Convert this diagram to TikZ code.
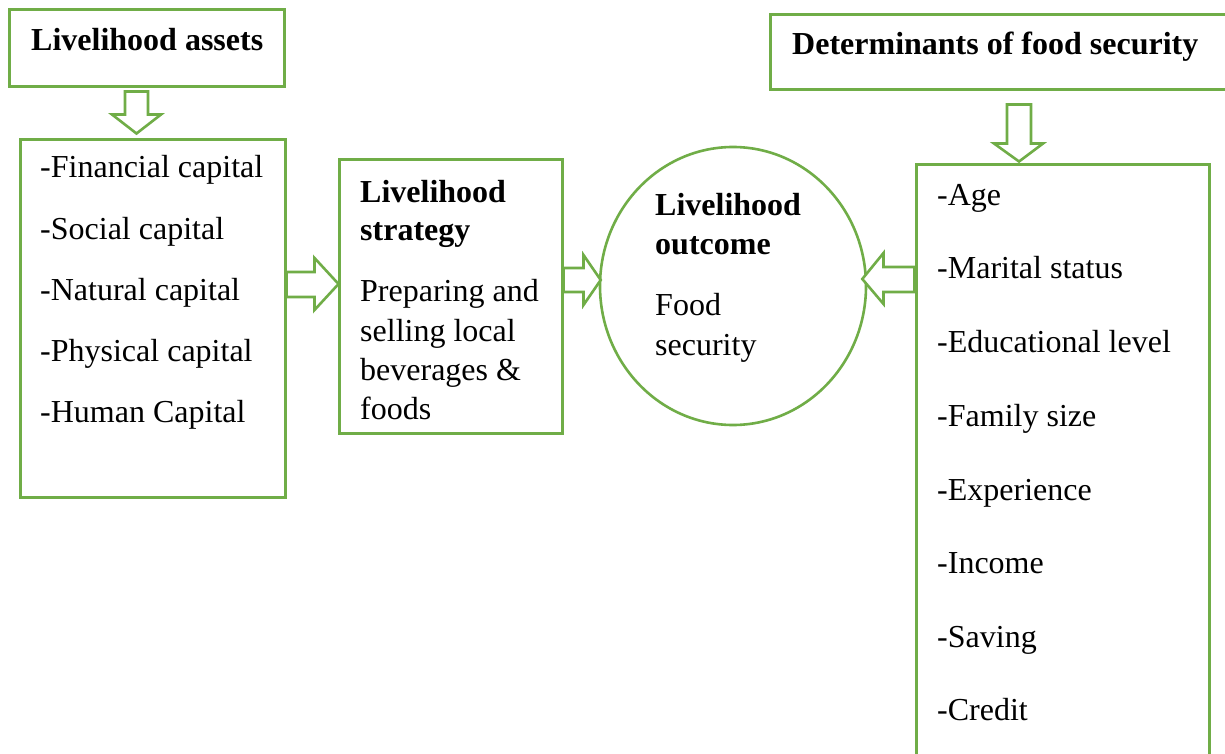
\documentclass[tikz,border=0pt]{standalone}
\usepackage{fontspec}
\setmainfont{Liberation Serif}
\usetikzlibrary{shapes.geometric,calc}
\definecolor{fgreen}{HTML}{70AD47}
\tikzset{
  box/.style={draw=fgreen, line width=3pt, rectangle, inner sep=0pt},
  oval/.style={draw=fgreen, line width=2.6pt, ellipse, inner sep=0pt},
  barrow/.style={draw=fgreen, line width=2.6pt, fill=white, line join=miter},
  txt/.style={anchor=base west, inner sep=0pt, font=\fontsize{32}{36}\selectfont},
  btxt/.style={txt, font=\fontsize{32}{36}\selectfont\bfseries},
}
\begin{document}
\begin{tikzpicture}[x=1pt,y=-1pt]
\useasboundingbox (0,0) rectangle (1225,754);
\clip (0,0) rectangle (1225,754);
\fill[white] (0,0) rectangle (1225,754);

% boxes
\node[box, minimum width=275pt, minimum height=77pt] (A) at (146.5,48.5) {};
\node[box, minimum width=265pt, minimum height=357pt] (B) at (152.5,318.5) {};
\node[box, minimum width=223pt, minimum height=273pt] (C) at (450.5,296.5) {};
\node[oval, minimum width=266pt, minimum height=278pt] (D) at (733,286) {};
\node[box, minimum width=470pt, minimum height=75pt] (E) at (1005,52.5) {};
\node[box, minimum width=293pt, minimum height=615pt] (F) at (1062.5,472.5) {};

% block arrows
% A -> B
\draw[barrow] ($(A.south)+(-21.5,3)$) -- ++(23,0) -- ++(0,23) -- ++(13,0)
  -- ($(B.north)+(-16,-5)$) -- ($(A.south)+(-34.5,26)$) -- ++(13,0) -- cycle;
% B -> C
\draw[barrow] ($(B.east)+(0,-46.5)$) -- ++(28,0) -- ++(0,-14) -- ($(C.west)+(1,-12.5)$)
  -- ($(B.east)+(28,-8.5)$) -- ++(0,-13) -- ++(-28,0) -- cycle;
% C -> D
\draw[barrow] ($(C.east)+(0,-28.5)$) -- ++(20,0) -- ++(0,-13) -- ($(D.west)+(2,-6)$)
  -- ($(C.east)+(20,8.5)$) -- ++(0,-13) -- ++(-20,0) -- cycle;
% E -> F
\draw[barrow] ($(E.south)+(2,13)$) -- ++(24,0) -- ++(0,39) -- ++(12,0)
  -- ($(F.north)+(-43.5,-2)$) -- ($(E.south)+(-11,52)$) -- ++(13,0) -- cycle;
% F -> D
\draw[barrow] ($(F.west)+(0,-205.5)$) -- ++(-31,0) -- ++(0,-14) -- ($(D.east)+(-5,-7)$)
  -- ($(F.west)+(-31,-168.5)$) -- ++(0,-12) -- ++(31,0) -- cycle;

% texts
\node[btxt] (At) at (31,51) {Livelihood assets};

\node[txt] (B1) at (40,178) {-Financial capital};
\node[txt] (B2) at (40,239) {-Social capital};
\node[txt] (B3) at (40,300) {-Natural capital};
\node[txt] (B4) at (40,361) {-Physical capital};
\node[txt] (B5) at (40,422) {-Human Capital};

\node[btxt] (C1) at (360,202) {Livelihood};
\node[btxt] (C2) at (360,240) {strategy};
\node[txt] (C3) at (360,301) {Preparing and};
\node[txt] (C4) at (360,341) {selling local};
\node[txt] (C5) at (360,380) {beverages \&};
\node[txt] (C6) at (360,419) {foods};

\node[btxt] (D1) at (655,215) {Livelihood};
\node[btxt] (D2) at (655,254) {outcome};
\node[txt] (D3) at (655,315) {Food};
\node[txt] (D4) at (655,355) {security};

\node[btxt] (Et) at (792,55) {Determinants of food security};

\node[txt] (F1) at (937,205) {-Age};
\node[txt] (F2) at (937,278) {-Marital status};
\node[txt] (F3) at (937,352) {-Educational level};
\node[txt] (F4) at (937,426) {-Family size};
\node[txt] (F5) at (937,500) {-Experience};
\node[txt] (F6) at (937,573) {-Income};
\node[txt] (F7) at (937,647) {-Saving};
\node[txt] (F8) at (937,720) {-Credit};
\end{tikzpicture}
\end{document}
